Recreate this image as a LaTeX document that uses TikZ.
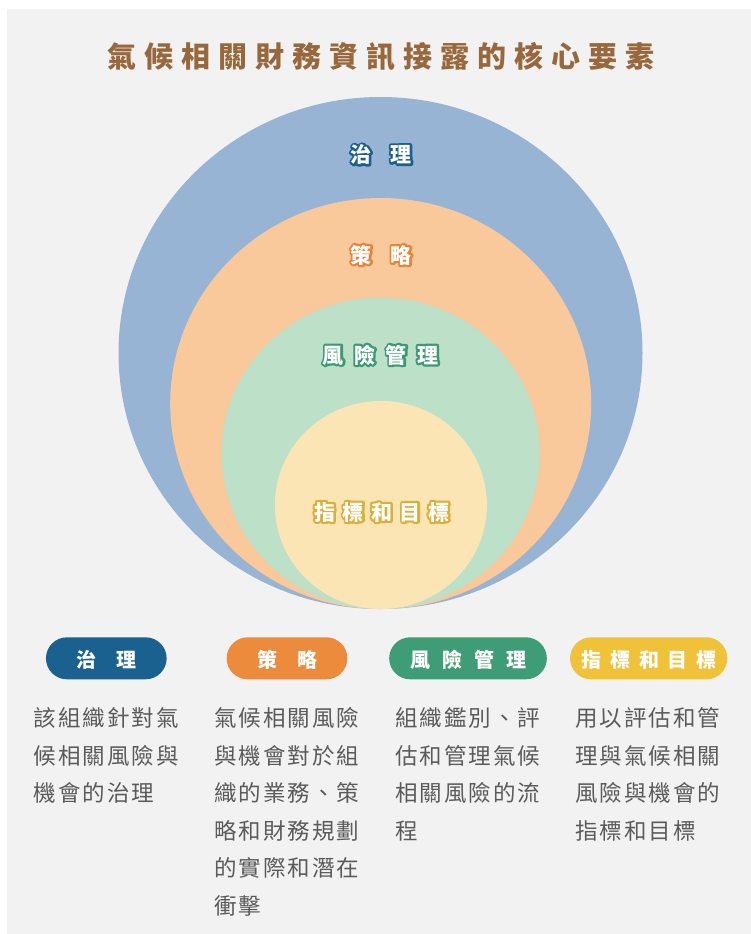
\documentclass[tikz,border=0pt]{standalone}
\usepackage{fontspec}
\usetikzlibrary{shapes.geometric}
\newfontfamily\cjk{Noto Sans CJK TC}
\definecolor{bgc}{HTML}{F2F2F2}
\definecolor{govc}{HTML}{98B4D4}
\definecolor{strc}{HTML}{F9C89B}
\definecolor{rskc}{HTML}{BDE0C9}
\definecolor{metc}{HTML}{FBE5B5}
\definecolor{titlec}{HTML}{98683C}
\definecolor{pblue}{HTML}{1B6190}
\definecolor{porange}{HTML}{EC8B3B}
\definecolor{pgreen}{HTML}{3E9D76}
\definecolor{pyellow}{HTML}{F0C23A}
\definecolor{oblue}{HTML}{1C5F8D}
\definecolor{oorange}{HTML}{E8843A}
\definecolor{ogreen}{HTML}{3C9A72}
\definecolor{ogold}{HTML}{DDAE35}
\definecolor{bodyc}{HTML}{5B5B5B}
\makeatletter
\def\sp@end{\sp@end}
\newcommand\spaced[2]{\def\sp@gap{#1}\edef\sp@tmp{#2}\expandafter\sp@loop\sp@tmp\sp@end}
\def\sp@loop#1{\ifx#1\sp@end\unskip\else#1\hspace{\sp@gap}\expandafter\sp@loop\fi}
\makeatother
% text drawn filled and stroked in the current colour (outline halo)
\newcommand\halo[1]{\special{pdf:literal direct 2 Tr 4.4 w 1 j 1 J}#1\special{pdf:literal direct 0 Tr 0.4 w 0 j 0 J}}
\tikzset{
  ttl/.style={font=\cjk\bfseries\fontsize{29}{29}\selectfont, text=titlec, anchor=base, inner sep=0pt},
  circlbl/.style={font=\cjk\bfseries\fontsize{21}{21}\selectfont, anchor=base, inner sep=0pt},
  ring/.style={ellipse, inner sep=0pt, outer sep=0pt, draw=none},
  pill/.style={rectangle, rounded corners=21pt, minimum width=#1, minimum height=42pt, inner sep=0pt, draw=none},
  pilltxt/.style={font=\cjk\bfseries\fontsize{20}{20}\selectfont, text=white, anchor=base, inner sep=0pt},
  body/.style={font=\cjk\fontsize{22.5}{22.5}\selectfont, text=bodyc, anchor=base west, inner sep=0pt},
}
\newcommand\olabel[5]{%
  \node[circlbl,text=#3] (#1h) at (#2) {\halo{\spaced{#4}{#5}}};
  \node[circlbl,text=white] (#1) at (#2) {\spaced{#4}{#5}};
}
\begin{document}
\begin{tikzpicture}[x=1pt,y=-1pt]
\useasboundingbox (0,0) rectangle (751,934);
\fill[white] (0,0) rectangle (751,934);
\fill[bgc] (7,9) rectangle (751,933.5);
% title
\node[ttl] (title) at (381,67) {\spaced{8pt}{氣候相關財務資訊接露的核心要素}};
% rings
\node[ring, fill=govc, minimum width=524pt, minimum height=512pt] (gov) at (380.5,353) {};
\node[ring, fill=strc, minimum width=421pt, minimum height=411pt] (str) at (380.7,403.5) {};
\node[ring, fill=rskc, minimum width=318pt, minimum height=311.5pt] (rsk) at (380.7,453.3) {};
\node[ring, fill=metc, minimum width=212pt, minimum height=208pt] (met) at (380.9,505) {};
% ring labels
\olabel{lgov}{381,162.5}{oblue}{19pt}{治理}
\olabel{lstr}{381,263}{oorange}{19pt}{策略}
\olabel{lrsk}{380.5,363}{ogreen}{10.5pt}{風險管理}
\olabel{lmet}{381.7,520}{ogold}{7.5pt}{指標和目標}
% pills
\node[pill=120.7pt, fill=pblue] (p1) at (106.3,658.3) {};
\node[pill=120.7pt, fill=porange] (p2) at (287,658.3) {};
\node[pill=157.7pt, fill=pgreen] (p3) at (468,658.3) {};
\node[pill=157.3pt, fill=pyellow] (p4) at (648.7,658.3) {};
\node[pilltxt] (t1) at (106.7,667) {\spaced{20pt}{治理}};
\node[pilltxt] (t2) at (287,667) {\spaced{20pt}{策略}};
\node[pilltxt] (t3) at (468,667) {\spaced{12pt}{風險管理}};
\node[pilltxt] (t4) at (649.2,667) {\spaced{8.75pt}{指標和目標}};
% body texts
\foreach \t [count=\i from 0] in {該組織針對氣,候相關風險與,機會的治理}
  \node[body] (ca\i) at (33.5,726.9+37.5*\i) {\spaced{2pt}{\t}};
\foreach \t [count=\i from 0] in {氣候相關風險,與機會對於組,織的業務、策,略和財務規劃,的實際和潛在,衝擊}
  \node[body] (cb\i) at (214,726.9+37.5*\i) {\spaced{2pt}{\t}};
\foreach \t [count=\i from 0] in {組織鑑別、評,估和管理氣候,相關風險的流,程}
  \node[body] (cc\i) at (395,726.9+37.5*\i) {\spaced{2pt}{\t}};
\foreach \t [count=\i from 0] in {用以評估和管,理與氣候相關,風險與機會的,指標和目標}
  \node[body] (cd\i) at (575,726.9+37.5*\i) {\spaced{2pt}{\t}};
\end{tikzpicture}
\end{document}
